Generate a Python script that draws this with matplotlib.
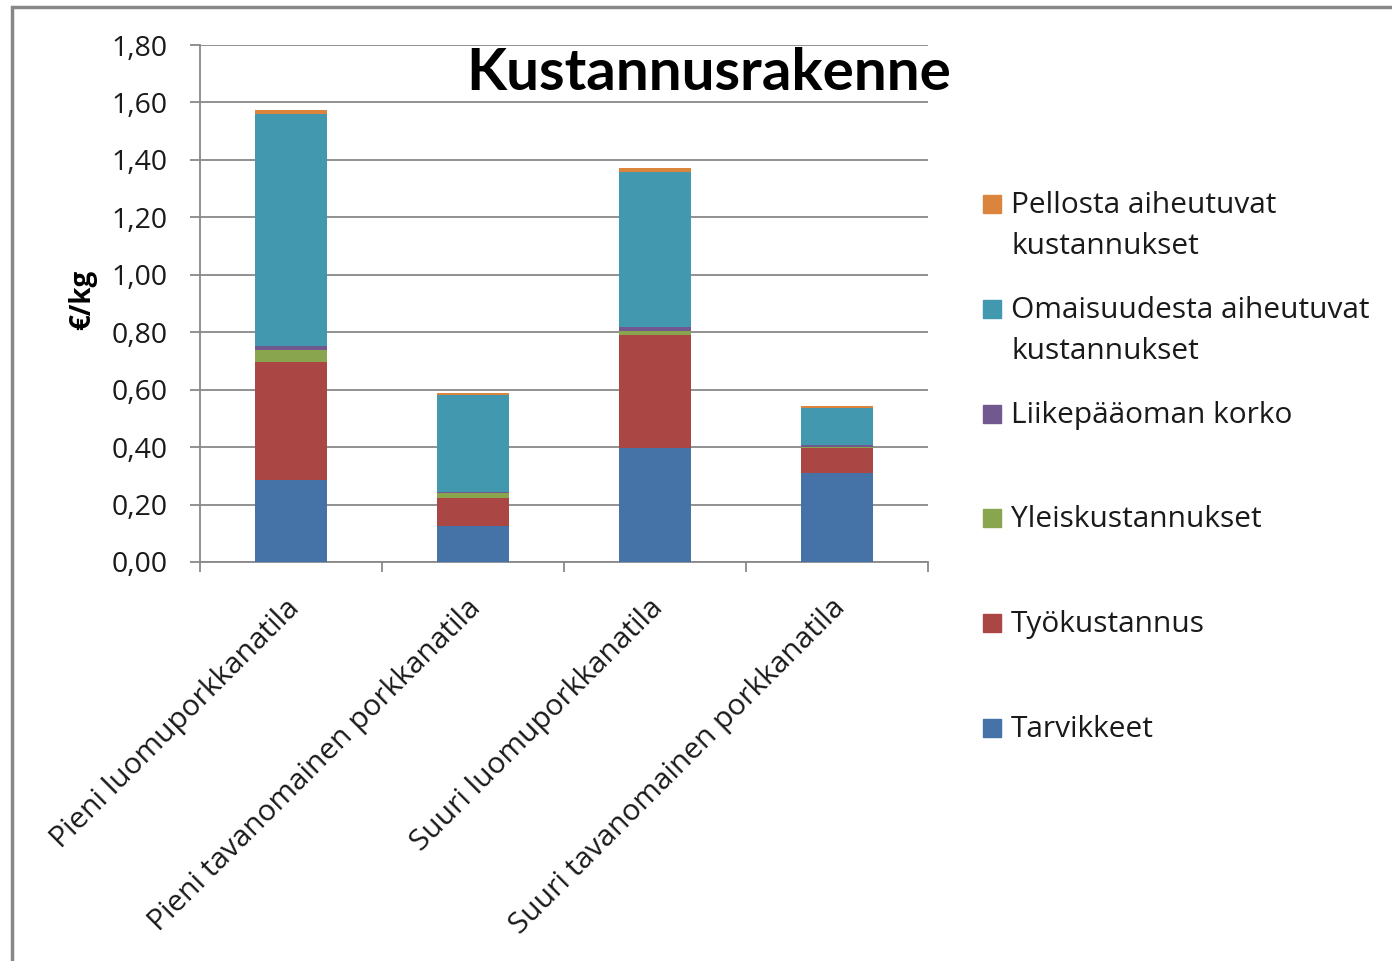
import matplotlib
matplotlib.use("Agg")
import matplotlib.pyplot as plt
from matplotlib.patches import Rectangle
import numpy as np

plt.rcParams['font.family'] = ['Open Sans', 'DejaVu Sans']

categories = ["Pieni luomuporkkanatila", "Pieni tavanomainen porkkanatila",
              "Suuri luomuporkkanatila", "Suuri tavanomainen porkkanatila"]
tarvikkeet = [0.285, 0.125, 0.398, 0.309]
tyokustannus = [0.412, 0.097, 0.392, 0.087]
yleiskustannukset = [0.040, 0.017, 0.015, 0.005]
liikepaaoman_korko = [0.014, 0.003, 0.014, 0.005]
omaisuudesta = [0.810, 0.341, 0.539, 0.131]
pellosta = [0.012, 0.006, 0.013, 0.005]

series = [
    ("Tarvikkeet", tarvikkeet, "#4572A7"),
    ("Työkustannus", tyokustannus, "#AA4643"),
    ("Yleiskustannukset", yleiskustannukset, "#89A54E"),
    ("Liikepääoman korko", liikepaaoman_korko, "#71588F"),
    ("Omaisuudesta aiheutuvat\nkustannukset", omaisuudesta, "#4198AF"),
    ("Pellosta aiheutuvat\nkustannukset", pellosta, "#DB843D"),
]
yticks = [0.0, 0.2, 0.4, 0.6, 0.8, 1.0, 1.2, 1.4, 1.6, 1.8]

W, H = 1392, 961
fig = plt.figure(figsize=(W / 100, H / 100), dpi=100)
ax = fig.add_axes([200 / W, 1 - 562 / H, 728 / W, 517 / H])

x = np.arange(len(categories))
bottom = np.zeros(len(categories))
for name, vals, col in series:
    ax.bar(x, vals, bottom=bottom, width=0.4, color=col, label=name, zorder=3)
    bottom += np.array(vals)

ax.set_xlim(-0.5, len(categories) - 0.5)
ax.set_ylim(0, 1.8)
ax.set_yticks(yticks)
ax.set_yticklabels([f"{v:.2f}".replace(".", ",") for v in yticks], fontsize=20.5, color="#1a1a1a")
ax.yaxis.grid(True, color="#888888", linewidth=1.3, zorder=0)
ax.set_axisbelow(True)
for s in ["top", "right"]:
    ax.spines[s].set_visible(False)
for s in ["left", "bottom"]:
    ax.spines[s].set_color("#888888")
    ax.spines[s].set_linewidth(1.3)
ax.tick_params(axis="y", length=7.2, width=1.3, color="#888888", pad=16)
ax.set_xticks(np.arange(-0.5, len(categories), 1.0))
ax.set_xticklabels([])
ax.tick_params(axis="x", length=7.2, width=1.3, color="#888888")

for i, c in enumerate(categories):
    ax.text(i - 0.035, -0.11, c, rotation=45, ha="right", va="top",
            rotation_mode="anchor", fontsize=21.5, color="#1a1a1a",
            transform=ax.transData)

fig.text(83 / W, 1 - 300 / H, "€/kg", fontsize=20, fontweight="bold",
         rotation=90, ha="center", va="center", color="black")

fig.text(709 / W, 1 - 73 / H, "Kustannusrakenne", fontsize=42, fontweight="bold",
         family=["Lato", "DejaVu Sans"], ha="center", va="center", color="black")

# legend
legend_items = list(reversed(series))
for i, (name, vals, col) in enumerate(legend_items):
    base = 213 + 104.8 * i
    fig.patches.append(Rectangle((983 / W, 1 - base / H), 18 / W, 18 / H,
                                 transform=fig.transFigure, color=col))
    for j, line in enumerate(name.split("\n")):
        fig.text(1011 / W, 1 - (base + 41 * j) / H, line, fontsize=21.5, ha="left",
                 va="baseline", color="#1a1a1a")

# border
fig.patches.append(Rectangle((12 / W, -0.05), 1.2, 1 - 7 / H + 0.05,
                             transform=fig.transFigure, fill=False,
                             edgecolor="#888888", linewidth=2.5))

fig.savefig("out.png", dpi=100)
